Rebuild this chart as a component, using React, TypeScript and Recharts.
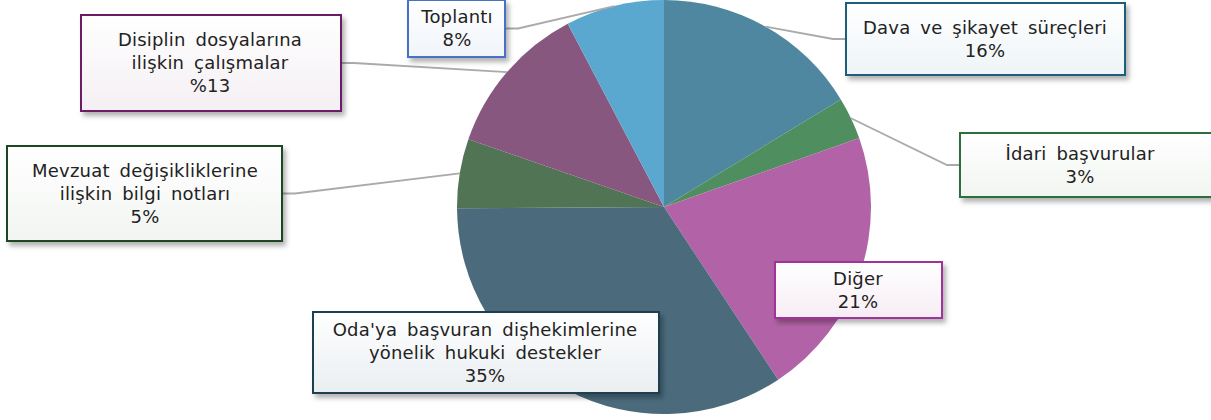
import { PieChart, Pie, Cell } from 'recharts';

const categories = [
  'Dava ve şikayet süreçleri',
  'İdari başvurular',
  'Diğer',
  "Oda'ya başvuran dişhekimlerine yönelik hukuki destekler",
  'Mevzuat değişikliklerine ilişkin bilgi notları',
  'Disiplin dosyalarına ilişkin çalışmalar',
  'Toplantı',
];

const values = [16.3, 3.3, 21.1, 34.2, 5.4, 12.0, 7.7];

const percentLabels = ['16%', '3%', '21%', '35%', '5%', '%13', '8%'];

const labelLines = [
  ['Dava ve şikayet süreçleri'],
  ['İdari başvurular'],
  ['Diğer'],
  ["Oda'ya başvuran dişhekimlerine", 'yönelik hukuki destekler'],
  ['Mevzuat değişikliklerine', 'ilişkin bilgi notları'],
  ['Disiplin dosyalarına', 'ilişkin çalışmalar'],
  ['Toplantı'],
];

const COLORS = ['#5087A0', '#4F8F5F', '#B262A6', '#4B6B7D', '#507454', '#87577F', '#5AA8CF'];
const BORDERS = ['#1F5F7A', '#2E6E3C', '#A0309A', '#1F3F50', '#1E4622', '#6A1F66', '#4472C4'];
const TINTS = ['#EEF4F7', '#F1F5F1', '#F6EDF4', '#E9EEF1', '#F2F5F2', '#F4EFF3', '#F0F4FA'];

// box geometry (x, y, w, h) and whether a leader line is drawn
const BOXES = [
  { x: 846, y: 3, w: 279, h: 72, line: true },
  { x: 960, y: 133, w: 270, h: 64, line: true },
  { x: 775, y: 262, w: 167, h: 56, line: false },
  { x: 313, y: 312, w: 346, h: 81, line: false },
  { x: 7, y: 146, w: 275, h: 95, line: true },
  { x: 81, y: 15, w: 260, h: 96, line: true },
  { x: 408, y: 0, w: 97, h: 57, line: true },
];

const TEXT_CX = [985, 1080, 858, 485, 145, 210, 457];

const data = categories.map((name, i) => ({ name, value: values[i] }));

const RAD = Math.PI / 180;

function renderLabel(props: any) {
  const { cx, cy, midAngle, outerRadius, index } = props;
  const b = BOXES[index];
  const lines = [...labelLines[index], percentLabels[index]];
  const lh = 23;
  const midY = b.y + b.h / 2;
  const startY = midY - ((lines.length - 1) * lh) / 2;
  const ex = cx + outerRadius * Math.cos(-midAngle * RAD);
  const ey = cy + outerRadius * Math.sin(-midAngle * RAD);
  const onRight = b.x > cx;
  const ax = onRight ? b.x : b.x + b.w;
  const kx = onRight ? ax - 13 : ax + 13;
  const tx = TEXT_CX[index];
  return (
    <g key={`lbl-${index}`}>
      {b.line && (
        <polyline
          points={`${ex},${ey} ${kx},${midY} ${ax},${midY}`}
          fill="none"
          stroke="#AAAAAA"
          strokeWidth={1.8}
        />
      )}
      <rect
        x={b.x}
        y={b.y}
        width={b.w}
        height={b.h}
        fill={`url(#boxgrad-${index})`}
        stroke={BORDERS[index]}
        strokeWidth={2}
        filter="url(#shadow)"
      />
      <text
        textAnchor="middle"
        fontFamily="DejaVu Sans, Verdana, sans-serif"
        fontSize={18}
        letterSpacing={0.2}
        wordSpacing={4}
        fill="#222"
      >
        {lines.map((t, i) => (
          <tspan key={i} x={tx} y={startY + i * lh} dy="0.36em">
            {t}
          </tspan>
        ))}
      </text>
    </g>
  );
}

export default function App() {
  return (
    <div style={{ position: 'absolute', left: 0, top: 0, width: 1211, height: 420, background: '#fff' }}>
      <PieChart width={1211} height={420} margin={{ top: 0, right: 0, bottom: 0, left: 0 }}>
        <defs>
          <filter id="shadow" x="-10%" y="-10%" width="130%" height="140%">
            <feDropShadow dx={3} dy={4} stdDeviation={2.5} floodColor="#000" floodOpacity={0.3} />
          </filter>
          {TINTS.map((c, i) => (
            <linearGradient key={i} id={`boxgrad-${i}`} x1="0" y1="0" x2="0" y2="1">
              <stop offset="0%" stopColor="#FFFFFF" />
              <stop offset="100%" stopColor={c} />
            </linearGradient>
          ))}
        </defs>
        <Pie
          data={data}
          dataKey="value"
          nameKey="name"
          cx={664}
          cy={207}
          outerRadius={207}
          startAngle={90}
          endAngle={-270}
          stroke="none"
          label={renderLabel}
          labelLine={false}
          isAnimationActive={false}
        >
          {data.map((_, i) => (
            <Cell key={`cell-${i}`} fill={COLORS[i]} />
          ))}
        </Pie>
      </PieChart>
    </div>
  );
}
